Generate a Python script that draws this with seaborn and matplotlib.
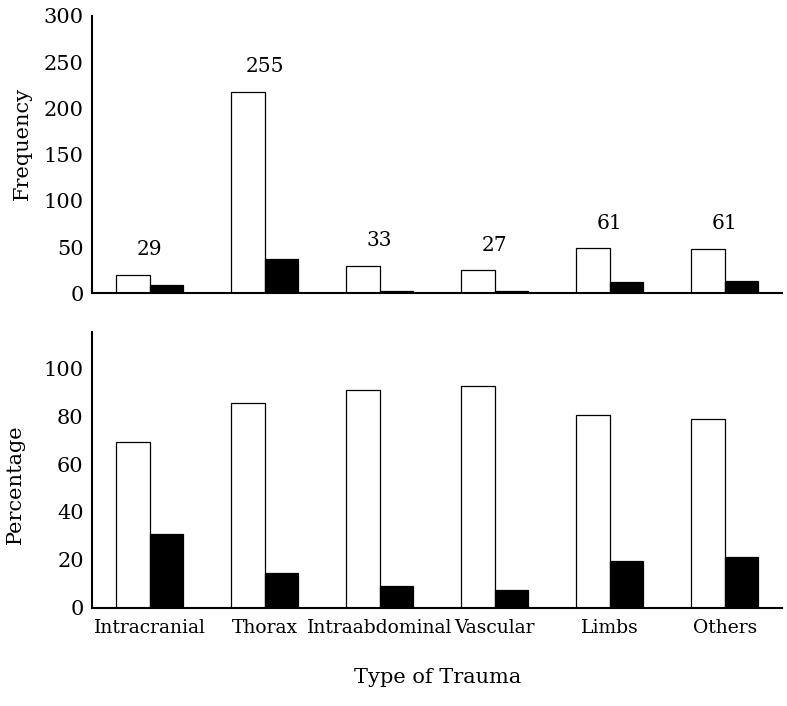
import numpy as np
import pandas as pd
import matplotlib
matplotlib.use("Agg")
import matplotlib.pyplot as plt
import seaborn as sns

# data
categories = ["Intracranial", "Thorax", "Intraabdominal", "Vascular", "Limbs", "Others"]
freq_white = [20, 218, 30, 25, 49, 48]
freq_black = [9, 37, 3, 2, 12, 13]
totals = [29, 255, 33, 27, 61, 61]
pct_white = [69.0, 85.5, 90.9, 92.6, 80.3, 78.7]
pct_black = [31.0, 14.5, 9.1, 7.4, 19.7, 21.3]
series = ["Series 1", "Series 2"]

sns.set_style("white")
plt.rcParams["font.family"] = ["DejaVu Serif"]
plt.rcParams["text.color"] = "black"
plt.rcParams["axes.labelcolor"] = "black"
plt.rcParams["xtick.color"] = "black"
plt.rcParams["ytick.color"] = "black"

freq_df = pd.DataFrame({
    "Type of Trauma": categories * 2,
    "value": freq_white + freq_black,
    "group": [series[0]] * 6 + [series[1]] * 6,
})
pct_df = pd.DataFrame({
    "Type of Trauma": categories * 2,
    "value": pct_white + pct_black,
    "group": [series[0]] * 6 + [series[1]] * 6,
})
pal = {series[0]: "white", series[1]: "black"}

fig = plt.figure(figsize=(7.87, 7.06), dpi=100)
ax1 = fig.add_axes([0.117, 0.5845, 0.877, 0.393])
ax2 = fig.add_axes([0.117, 0.139, 0.877, 0.3905])

for ax, df in [(ax1, freq_df), (ax2, pct_df)]:
    sns.barplot(data=df, x="Type of Trauma", y="value", hue="group",
                palette=pal, edgecolor="black", linewidth=0.9,
                width=0.58, legend=False, ax=ax)
    ax.set_xlim(-0.5, 5.5)
    for s in ["top", "right"]:
        ax.spines[s].set_visible(False)
    for s in ["left", "bottom"]:
        ax.spines[s].set_color("black")
        ax.spines[s].set_linewidth(1.5)
    ax.tick_params(axis="y", length=0, labelsize=15, pad=6)
    ax.tick_params(axis="x", length=0)

# top panel
ax1.set_ylim(0, 300)
ax1.set_yticks([0, 50, 100, 150, 200, 250, 300])
ax1.set_xticklabels([])
ax1.set_xlabel("")
ax1.set_ylabel("Frequency", fontsize=15)
ax1.yaxis.set_label_coords(-0.087, 0.54)
for i, t in enumerate(totals):
    ax1.annotate(str(t), xy=(i, freq_white[i]), xytext=(0, 18),
                 textcoords="offset points", ha="center", va="center",
                 fontsize=14.5)

# bottom panel
ax2.set_ylim(0, 115)
ax2.set_yticks([0, 20, 40, 60, 80, 100])
ax2.set_xticks(range(len(categories)))
ax2.set_xticklabels(categories, fontsize=13.5)
ax2.tick_params(axis="x", pad=8)
ax2.set_ylabel("Percentage", fontsize=15)
ax2.yaxis.set_label_coords(-0.097, 0.45)
ax2.set_xlabel("Type of Trauma", fontsize=15, labelpad=22)

fig.savefig("out.png", dpi=100)
